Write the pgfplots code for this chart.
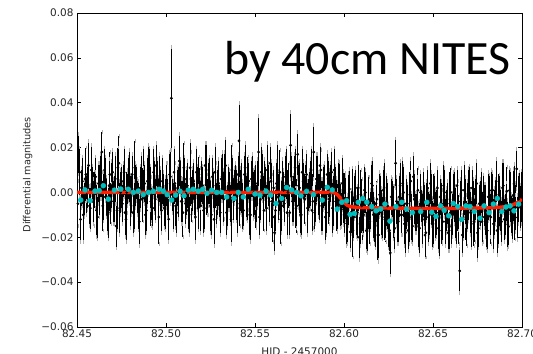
\documentclass[border=0pt]{standalone}
\usepackage{fontspec}
\setmainfont{DejaVu Sans}
\newfontfamily\calibri{Carlito}
\usepackage{pgfplots}
\pgfplotsset{compat=1.18}
\usepackage{pgfplotstable}
\definecolor{mcyan}{RGB}{0,191,191}
\definecolor{mred}{RGB}{255,30,0}

\pgfplotstableread{
x y e
82.451 0.017 0.009
82.452 -0.012 0.010
82.453 0.005 0.011
82.454 -0.003 0.008
82.455 0.008 0.012
82.456 0.002 0.010
82.457 -0.006 0.009
82.458 0.010 0.011
82.459 -0.004 0.010
82.460 0.001 0.008
82.461 -0.008 0.012
82.462 0.004 0.009
82.463 0.007 0.010
82.464 0.018 0.009
82.465 -0.002 0.011
82.466 0.006 0.010
82.467 -0.010 0.008
82.468 0.003 0.012
82.469 -0.005 0.009
82.470 0.009 0.010
82.471 -0.003 0.011
82.472 -0.015 0.010
82.473 0.011 0.009
82.474 -0.007 0.012
82.475 0.002 0.010
82.476 0.005 0.008
82.477 -0.009 0.011
82.478 0.000 0.009
82.479 0.006 0.010
82.480 -0.004 0.012
82.481 0.008 0.009
82.482 -0.006 0.011
82.483 0.003 0.010
82.484 -0.002 0.008
82.485 -0.013 0.011
82.486 0.007 0.010
82.487 -0.001 0.012
82.488 0.004 0.009
82.489 -0.008 0.010
82.490 0.010 0.011
82.491 0.002 0.010
82.492 -0.005 0.008
82.493 0.009 0.011
82.494 -0.003 0.010
82.495 0.006 0.009
82.496 -0.011 0.012
82.497 0.001 0.010
82.498 0.005 0.011
82.499 -0.007 0.009
82.500 0.003 0.010
82.501 -0.002 0.009
82.502 0.008 0.010
82.503 0.042 0.023
82.504 -0.006 0.011
82.505 0.004 0.009
82.506 -0.009 0.010
82.507 0.000 0.012
82.508 0.007 0.008
82.509 -0.004 0.010
82.510 0.011 0.011
82.511 -0.005 0.010
82.512 0.003 0.011
82.513 -0.010 0.009
82.514 0.006 0.012
82.515 0.001 0.010
82.516 -0.003 0.008
82.517 0.009 0.011
82.518 -0.007 0.010
82.519 0.002 0.009
82.520 0.005 0.010
82.521 -0.008 0.011
82.522 0.012 0.010
82.523 -0.001 0.009
82.524 0.004 0.010
82.525 -0.006 0.012
82.526 0.007 0.009
82.527 -0.012 0.012
82.528 0.003 0.010
82.529 0.000 0.011
82.530 -0.004 0.008
82.531 0.006 0.010
82.532 -0.002 0.012
82.533 0.009 0.009
82.534 -0.009 0.011
82.535 0.002 0.010
82.536 -0.005 0.009
82.537 0.010 0.011
82.538 -0.003 0.010
82.539 0.005 0.008
82.540 -0.007 0.012
82.541 0.023 0.017
82.542 0.001 0.010
82.543 -0.006 0.011
82.544 0.008 0.009
82.545 -0.002 0.010
82.546 0.004 0.012
82.547 -0.010 0.010
82.548 0.006 0.009
82.549 -0.001 0.011
82.550 0.003 0.010
82.551 -0.005 0.009
82.552 0.018 0.016
82.553 -0.003 0.010
82.554 0.007 0.011
82.555 -0.008 0.009
82.556 0.002 0.010
82.557 0.010 0.012
82.558 -0.004 0.010
82.559 0.005 0.009
82.560 -0.011 0.011
82.561 -0.018 0.009
82.562 0.004 0.010
82.563 -0.002 0.011
82.564 0.009 0.010
82.565 -0.006 0.012
82.566 0.001 0.009
82.567 0.007 0.010
82.568 -0.009 0.011
82.569 0.003 0.010
82.570 0.021 0.015
82.571 -0.004 0.010
82.572 0.006 0.011
82.573 -0.007 0.009
82.574 0.017 0.010
82.575 0.002 0.012
82.576 -0.010 0.010
82.577 0.005 0.009
82.578 -0.003 0.011
82.579 0.008 0.010
82.580 -0.001 0.008
82.581 0.004 0.011
82.582 -0.008 0.010
82.583 0.018 0.012
82.584 -0.005 0.009
82.585 0.007 0.010
82.586 -0.002 0.011
82.587 0.010 0.009
82.588 -0.006 0.012
82.589 0.003 0.010
82.590 -0.009 0.010
82.591 0.006 0.009
82.592 -0.001 0.011
82.593 0.009 0.010
82.594 -0.004 0.012
82.595 0.002 0.010
82.596 -0.008 0.009
82.597 0.003 0.011
82.598 -0.006 0.010
82.599 0.004 0.012
82.600 -0.010 0.009
82.601 -0.0025 0.010
82.602 -0.012 0.011
82.603 0.0015 0.009
82.604 -0.0088 0.010
82.605 -0.017 0.012
82.606 -0.002 0.010
82.607 -0.011 0.009
82.608 0.002 0.011
82.609 -0.014 0.010
82.610 -0.006 0.012
82.611 -0.010 0.009
82.612 0.000 0.010
82.613 -0.016 0.011
82.614 -0.003 0.010
82.615 -0.008 0.009
82.616 0.003 0.012
82.617 -0.013 0.010
82.618 -0.005 0.009
82.619 -0.019 0.011
82.620 -0.001 0.010
82.621 -0.009 0.011
82.622 0.001 0.010
82.623 -0.012 0.009
82.624 -0.004 0.012
82.625 -0.015 0.010
82.626 -0.027 0.010
82.627 -0.003 0.009
82.628 -0.008 0.011
82.629 0.013 0.011
82.630 -0.013 0.010
82.631 -0.002 0.010
82.632 -0.010 0.009
82.633 0.004 0.011
82.634 -0.014 0.010
82.635 -0.005 0.012
82.636 -0.017 0.009
82.637 -0.001 0.010
82.638 -0.011 0.011
82.639 0.007 0.010
82.640 -0.009 0.009
82.641 -0.004 0.011
82.642 -0.015 0.010
82.643 0.000 0.009
82.644 -0.012 0.012
82.645 -0.006 0.010
82.646 -0.018 0.011
82.647 0.002 0.009
82.648 -0.010 0.010
82.649 -0.003 0.012
82.650 -0.014 0.010
82.651 -0.001 0.009
82.652 -0.009 0.011
82.653 -0.016 0.010
82.654 -0.002 0.009
82.655 -0.011 0.012
82.656 0.003 0.010
82.657 -0.013 0.011
82.658 -0.005 0.010
82.659 -0.017 0.009
82.660 0.000 0.011
82.661 -0.010 0.010
82.662 -0.002 0.012
82.663 -0.015 0.009
82.664 -0.006 0.011
82.665 -0.035 0.010
82.666 0.001 0.010
82.667 -0.012 0.009
82.668 -0.004 0.011
82.669 -0.014 0.010
82.670 -0.001 0.012
82.671 -0.009 0.010
82.672 0.002 0.009
82.673 -0.013 0.011
82.674 -0.003 0.010
82.675 -0.018 0.012
82.676 -0.005 0.009
82.677 0.000 0.010
82.678 -0.011 0.011
82.679 -0.006 0.010
82.680 -0.016 0.009
82.681 -0.002 0.011
82.682 -0.010 0.010
82.683 0.001 0.009
82.684 -0.014 0.012
82.685 -0.004 0.010
82.686 -0.017 0.011
82.687 -0.001 0.009
82.688 -0.008 0.010
82.689 0.002 0.012
82.690 -0.012 0.010
82.691 -0.0046 0.009
82.692 -0.0144 0.011
82.693 0.0009 0.010
82.694 -0.0098 0.009
82.695 -0.0014 0.012
82.696 -0.011 0.010
82.697 0.0105 0.009
82.698 -0.003 0.011
82.699 -0.0065 0.010
}\rawdata

\pgfplotstableread{
x y e
82.4505 -0.005 0.010
82.4515 0.009 0.011
82.4525 0.002 0.009
82.4535 -0.010 0.012
82.4545 0.006 0.010
82.4555 -0.001 0.009
82.4565 0.012 0.011
82.4575 -0.007 0.010
82.4585 0.004 0.008
82.4595 -0.003 0.012
82.4605 0.007 0.009
82.4615 -0.011 0.010
82.4625 0.001 0.012
82.4635 0.005 0.008
82.4645 -0.006 0.011
82.4655 0.010 0.010
82.4665 -0.002 0.009
82.4675 -0.009 0.012
82.4685 0.008 0.010
82.4695 0.003 0.011
82.4705 -0.004 0.010
82.4715 0.006 0.011
82.4725 -0.008 0.009
82.4735 0.013 0.012
82.4745 0.000 0.010
82.4755 -0.005 0.009
82.4765 0.009 0.011
82.4775 -0.012 0.010
82.4785 0.002 0.008
82.4795 0.007 0.012
82.4805 -0.001 0.009
82.4815 -0.009 0.010
82.4825 0.011 0.012
82.4835 0.004 0.008
82.4845 -0.006 0.011
82.4855 0.002 0.010
82.4865 -0.003 0.009
82.4875 0.008 0.012
82.4885 -0.010 0.010
82.4895 0.005 0.011
82.4905 0.010 0.010
82.4915 -0.004 0.011
82.4925 -0.007 0.009
82.4935 0.003 0.012
82.4945 0.012 0.010
82.4955 -0.002 0.009
82.4965 0.006 0.011
82.4975 -0.008 0.010
82.4985 0.001 0.008
82.4995 -0.005 0.012
82.5005 0.004 0.009
82.5015 -0.012 0.010
82.5025 0.007 0.012
82.5035 -0.001 0.008
82.5045 0.009 0.011
82.5055 -0.006 0.010
82.5065 0.002 0.009
82.5075 0.014 0.012
82.5085 -0.004 0.010
82.5095 -0.009 0.011
82.5105 0.006 0.010
82.5115 0.000 0.011
82.5125 -0.008 0.009
82.5135 0.011 0.012
82.5145 -0.003 0.010
82.5155 0.005 0.009
82.5165 -0.011 0.011
82.5175 0.002 0.010
82.5185 0.008 0.008
82.5195 -0.006 0.012
82.5205 0.003 0.009
82.5215 -0.007 0.010
82.5225 0.010 0.012
82.5235 -0.002 0.008
82.5245 0.005 0.011
82.5255 -0.010 0.010
82.5265 0.001 0.009
82.5275 0.009 0.012
82.5285 -0.005 0.010
82.5295 0.004 0.011
82.5305 -0.009 0.010
82.5315 0.007 0.011
82.5325 -0.003 0.009
82.5335 0.012 0.012
82.5345 -0.006 0.010
82.5355 0.001 0.009
82.5365 -0.012 0.011
82.5375 0.006 0.010
82.5385 0.003 0.008
82.5395 -0.001 0.012
82.5405 0.008 0.009
82.5415 -0.005 0.010
82.5425 0.002 0.012
82.5435 -0.008 0.008
82.5445 0.011 0.011
82.5455 -0.003 0.010
82.5465 0.005 0.009
82.5475 -0.010 0.012
82.5485 0.007 0.010
82.5495 0.000 0.011
82.5505 -0.006 0.010
82.5515 0.004 0.011
82.5525 -0.011 0.009
82.5535 0.009 0.012
82.5545 -0.002 0.010
82.5555 0.006 0.009
82.5565 -0.007 0.011
82.5575 0.003 0.010
82.5585 0.013 0.008
82.5595 -0.004 0.012
82.5605 0.002 0.009
82.5615 -0.008 0.010
82.5625 0.010 0.012
82.5635 -0.001 0.008
82.5645 -0.012 0.011
82.5655 0.005 0.010
82.5665 -0.005 0.009
82.5675 0.008 0.012
82.5685 0.000 0.010
82.5695 -0.009 0.011
82.5705 0.007 0.010
82.5715 -0.003 0.011
82.5725 0.011 0.009
82.5735 -0.006 0.012
82.5745 0.003 0.010
82.5755 -0.010 0.009
82.5765 0.009 0.011
82.5775 -0.002 0.010
82.5785 0.005 0.008
82.5795 -0.007 0.012
82.5805 0.001 0.009
82.5815 0.010 0.010
82.5825 -0.004 0.012
82.5835 -0.009 0.008
82.5845 0.006 0.011
82.5855 -0.001 0.010
82.5865 0.012 0.009
82.5875 -0.006 0.012
82.5885 0.002 0.010
82.5895 -0.011 0.011
82.5905 0.008 0.010
82.5915 -0.003 0.011
82.5925 0.004 0.009
82.5935 -0.007 0.012
82.5945 0.010 0.010
82.5955 -0.0025 0.009
82.5965 -0.0065 0.011
82.5975 0.0035 0.010
82.5985 -0.0075 0.008
82.5995 -0.0025 0.012
82.6005 -0.0002 0.009
82.6015 -0.0138 0.010
82.6025 -0.0032 0.012
82.6035 -0.0176 0.008
82.6045 0.0001 0.011
82.6055 -0.011 0.010
82.6065 0.002 0.009
82.6075 -0.009 0.012
82.6085 -0.020 0.010
82.6095 -0.001 0.011
82.6105 -0.012 0.010
82.6115 0.001 0.011
82.6125 -0.017 0.009
82.6135 -0.005 0.012
82.6145 -0.013 0.010
82.6155 0.004 0.009
82.6165 -0.010 0.011
82.6175 -0.015 0.010
82.6185 -0.003 0.008
82.6195 -0.019 0.012
82.6205 -0.001 0.009
82.6215 -0.011 0.010
82.6225 0.002 0.012
82.6235 -0.014 0.008
82.6245 -0.006 0.011
82.6255 -0.017 0.010
82.6265 -0.002 0.009
82.6275 -0.009 0.012
82.6285 -0.016 0.010
82.6295 -0.004 0.011
82.6305 -0.013 0.010
82.6315 0.003 0.011
82.6325 -0.010 0.009
82.6335 0.000 0.012
82.6345 -0.018 0.010
82.6355 -0.005 0.009
82.6365 -0.012 0.011
82.6375 0.005 0.010
82.6385 -0.015 0.008
82.6395 -0.003 0.012
82.6405 -0.009 0.009
82.6415 0.001 0.010
82.6425 -0.016 0.012
82.6435 -0.006 0.008
82.6445 -0.001 0.011
82.6455 -0.019 0.010
82.6465 -0.004 0.009
82.6475 -0.011 0.012
82.6485 0.004 0.010
82.6495 -0.014 0.011
82.6505 -0.002 0.010
82.6515 -0.010 0.011
82.6525 0.002 0.009
82.6535 -0.017 0.012
82.6545 -0.005 0.010
82.6555 -0.013 0.009
82.6565 0.000 0.011
82.6575 -0.008 0.010
82.6585 -0.018 0.008
82.6595 -0.003 0.012
82.6605 -0.015 0.009
82.6615 -0.001 0.010
82.6625 -0.009 0.012
82.6635 0.003 0.008
82.6645 -0.012 0.011
82.6655 -0.004 0.010
82.6665 -0.019 0.009
82.6675 0.001 0.012
82.6685 -0.011 0.010
82.6695 -0.006 0.011
82.6705 0.002 0.010
82.6715 -0.014 0.011
82.6725 -0.003 0.009
82.6735 -0.010 0.012
82.6745 0.004 0.010
82.6755 -0.016 0.009
82.6765 -0.005 0.011
82.6775 -0.013 0.010
82.6785 0.000 0.008
82.6795 -0.008 0.012
82.6805 -0.017 0.009
82.6815 -0.002 0.010
82.6825 -0.011 0.012
82.6835 0.001 0.008
82.6845 -0.009 0.011
82.6855 0.005 0.010
82.6865 -0.015 0.009
82.6875 -0.004 0.012
82.6885 -0.013 0.010
82.6895 0.003 0.011
82.6905 -0.0097 0.010
82.6915 0.0005 0.011
82.6925 -0.0152 0.009
82.6935 -0.0019 0.012
82.6945 -0.0116 0.010
82.6955 0.0038 0.009
82.6965 -0.0067 0.011
82.6975 -0.0112 0.010
82.6985 0.0013 0.008
82.6995 -0.0022 0.012
}\rawdatab

\pgfplotstableread{
x y
82.4521 -0.0034
82.4545 0.0011
82.4573 -0.0037
82.4601 0.0006
82.4625 0.0008
82.4648 0.0030
82.4676 -0.0030
82.4710 0.0010
82.4746 0.0015
82.4788 0.0014
82.4816 0.0000
82.4844 0.0006
82.4872 -0.0010
82.4901 0.0000
82.4929 0.0005
82.4961 0.0014
82.4985 0.0006
82.5007 -0.0010
82.5032 -0.0034
82.5054 -0.0012
82.5079 0.0005
82.5101 -0.0015
82.5125 0.0010
82.5153 0.0014
82.5181 0.0006
82.5206 0.0014
82.5230 -0.0004
82.5257 0.0010
82.5285 0.0000
82.5313 0.0000
82.5341 -0.0020
82.5382 -0.0027
82.5406 0.0000
82.5434 -0.0020
82.5462 0.0014
82.5500 -0.0007
82.5528 -0.0012
82.5562 0.0006
82.5588 -0.0012
82.5618 -0.0049
82.5650 -0.0027
82.5678 0.0022
82.5706 0.0011
82.5734 0.0000
82.5758 -0.0015
82.5790 0.0005
82.5828 -0.0010
82.5878 -0.0034
82.5906 0.0023
82.5934 0.0011
82.5962 -0.0074
82.5987 -0.0044
82.6015 -0.0037
82.6034 -0.0098
82.6058 -0.0094
82.6080 -0.0044
82.6105 -0.0027
82.6128 -0.0044
82.6156 -0.0063
82.6180 -0.0082
82.6206 -0.0074
82.6230 -0.0052
82.6258 -0.0128
82.6292 -0.0063
82.6324 -0.0044
82.6352 -0.0074
82.6384 -0.0090
82.6431 -0.0085
82.6465 -0.0044
82.6493 -0.0088
82.6517 -0.0107
82.6543 -0.0060
82.6563 -0.0080
82.6588 -0.0104
82.6614 -0.0049
82.6639 -0.0063
82.6661 -0.0120
82.6685 -0.0060
82.6708 -0.0063
82.6732 -0.0085
82.6764 -0.0115
82.6787 -0.0060
82.6815 -0.0090
82.6839 -0.0052
82.6861 -0.0027
82.6886 -0.0085
82.6910 -0.0065
82.6933 -0.0060
82.6955 -0.0082
82.6981 -0.0052
}\bindata

\pgfplotstableread{
x y
82.450 0.0000
82.594 0.0000
82.596 -0.0008
82.598 -0.0025
82.600 -0.0045
82.602 -0.0058
82.604 -0.0064
82.608 -0.0067
82.620 -0.0069
82.640 -0.0071
82.660 -0.0071
82.680 -0.0069
82.688 -0.0066
82.692 -0.0062
82.695 -0.0055
82.697 -0.0047
82.699 -0.0036
82.700 -0.0028
}\modeldata

\begin{document}
\begin{tikzpicture}
\useasboundingbox (0,0) rectangle (533bp,354bp);
\begin{axis}[
  at={(77bp,27bp)}, anchor=south west,
  scale only axis, width=445bp, height=314bp,
  xmin=82.45, xmax=82.70, ymin=-0.06, ymax=0.08,
  scaled ticks=false,
  xtick={82.45,82.50,82.55,82.60,82.65,82.70},
  xticklabels={82.45,82.50,82.55,82.60,82.65,82.70},
  ytick={-0.06,-0.04,-0.02,0,0.02,0.04,0.06,0.08},
  yticklabels={−0.06,−0.04,−0.02,0.00,0.02,0.04,0.06,0.08},
  tick label style={font=\fontsize{10.5}{12}\selectfont, black!85},
  xticklabel style={yshift=1bp},
  tick align=inside, major tick length=4bp,
  tick style={black, line width=0.6pt},
  axis line style={black, line width=0.9pt},
  xlabel={HID - 2457000},
  ylabel={Differential magnitudes},
  xlabel style={at={(axis description cs:0.5,-0.078)}, anchor=center, font=\fontsize{10.5}{12}\selectfont, black!85},
  ylabel style={at={(axis description cs:-0.111,0.485)}, anchor=center, font=\fontsize{9.8}{12}\selectfont, black!85},
  clip=true,
  rawstyle/.style={only marks, mark=*, mark size=1.2bp, black,
    error bars/.cd, y dir=both, y explicit,
    error bar style={line width=0.9pt, black},
    error mark options={gray!60, line width=0.6pt, mark size=1.9bp}},
]
\addplot[rawstyle] table[x=x, y=y, y error=e]{\rawdatab};
\addplot[rawstyle] table[x=x, y=y, y error=e]{\rawdata};
\addplot[mred, line width=3.5bp, no marks] table[x=x, y=y]{\modeldata};
\addplot[only marks, mark=*, mark size=2.5bp, mcyan, mark options={draw=mcyan, fill=mcyan}] table[x=x, y=y]{\bindata};
\end{axis}
\node[anchor=base west, inner sep=0pt, font=\calibri\fontsize{48}{50}\selectfont] at (224bp,279bp) {by 40cm NITES};
\end{tikzpicture}
\end{document}
